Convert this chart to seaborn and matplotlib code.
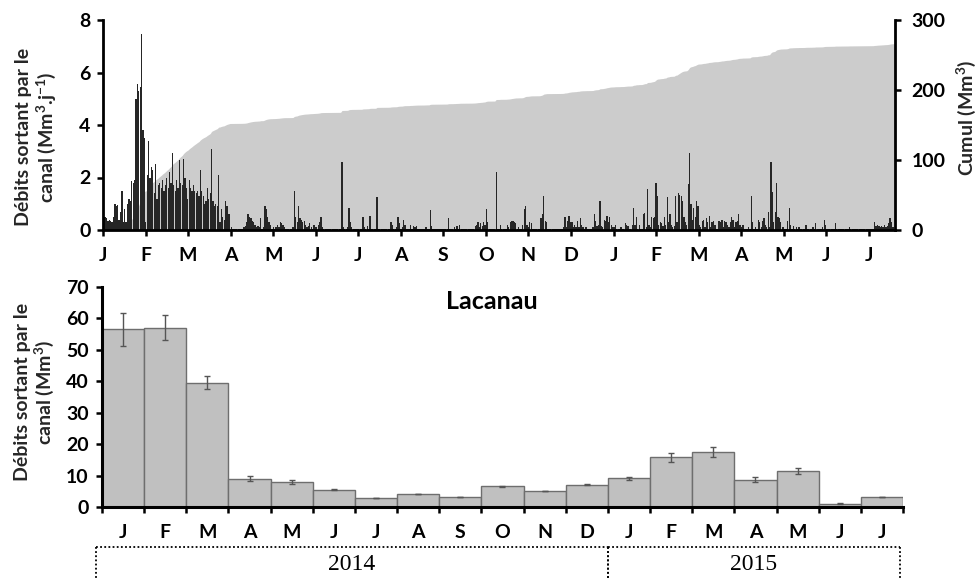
import numpy as np
import pandas as pd
import matplotlib
matplotlib.use("Agg")
import matplotlib.pyplot as plt
import matplotlib.transforms as mtransforms
from matplotlib.lines import Line2D
import seaborn as sns

# ---------------- data: daily outflow (Mm3/day) ----------------
q_2014_01 = [0.7, 0.5, 0.45, 0.35, 0.4, 0.35, 0.3, 0.5, 1.0, 0.9,
             0.95, 0.4, 0.7, 1.5, 0.3, 0.8, 0.3, 1.0, 1.2, 1.1,
             1.85, 1.8, 1.9, 5.0, 5.55, 5.3, 5.45, 7.45, 3.8, 3.5, 0.3]
q_2014_02 = [2.1, 3.4, 2.0, 2.4, 2.3, 1.4, 2.5, 1.2, 1.7, 1.8,
             1.6, 1.9, 1.5, 1.7, 2.0, 1.6, 2.2, 1.8, 2.95, 1.7,
             1.5, 1.9, 1.6, 2.65, 1.8, 1.7, 2.7, 2.0]
q_2014_03 = [1.6, 1.2, 1.9, 1.6, 1.5, 1.7, 1.5, 1.4, 1.5, 1.3,
             2.3, 1.5, 1.3, 1.0, 1.1, 1.6, 1.2, 1.4, 3.1, 1.1,
             0.9, 1.0, 0.9, 2.1, 0.3, 0.8, 0.5, 0.4, 1.1, 0.9, 0.6]
q_2014_04 = [0.6, 0.1, 0.02, 0.02, 0.02, 0.02, 0.02, 0.02, 0.02, 0.05,
             0.1, 0.15, 0.3, 0.6, 0.5, 0.45, 0.35, 0.3, 0.2, 0.1,
             0.15, 0.1, 0.45, 0.05, 0.1, 0.9, 0.8, 0.5, 0.3, 0.2]
q_2014_05 = [0.05, 0.1, 0.05, 0.1, 0.2, 0.1, 0.3, 0.25, 0.2, 0.1,
             0.05, 0.02, 0.02, 0.02, 0.05, 0.1, 1.5, 0.5, 0.3, 0.9,
             0.45, 0.4, 0.3, 0.35, 0.2, 0.1, 0.15, 0.25, 0.1, 0.05, 0.2]
q_2014_06 = [0.1, 0.1, 0.2, 0.3, 0.5, 0.1, 0.05, 0.05, 0.02, 0.02,
             0.02, 0.02, 0.02, 0.02, 0.02, 0.02, 0.02, 0.02, 0.05, 2.6,
             0.1, 0.05, 0.05, 0.1, 0.85, 0.3, 0.1, 0.05, 0.02, 0.02]
q_2014_07 = [0.05, 0.02, 0.02, 0.02, 0.5, 0.1, 0.02, 0.15, 0.02, 0.55,
             0.05, 0.02, 0.02, 0.02, 1.25, 0.05, 0.02, 0.02, 0.02, 0.02,
             0.02, 0.02, 0.05, 0.05, 0.3, 0.2, 0.05, 0.05, 0.1, 0.5, 0.25]
q_2014_08 = [0.05, 0.1, 0.4, 0.2, 0.05, 0.02, 0.05, 0.2, 0.05, 0.15,
             0.1, 0.15, 0.05, 0.02, 0.02, 0.02, 0.02, 0.05, 0.1, 0.05,
             0.02, 0.75, 0.15, 0.05, 0.02, 0.02, 0.02, 0.02, 0.02, 0.02, 0.05]
q_2014_09 = [0.02, 0.02, 0.05, 0.45, 0.05, 0.02, 0.02, 0.1, 0.05, 0.15,
             0.05, 0.2, 0.05, 0.02, 0.02, 0.02, 0.02, 0.02, 0.02, 0.02,
             0.05, 0.05, 0.15, 0.2, 0.3, 0.1, 0.25, 0.15, 0.3, 0.2]
q_2014_10 = [0.8, 0.3, 0.05, 0.02, 0.02, 0.02, 0.02, 2.2, 0.05, 0.02,
             0.2, 0.02, 0.02, 0.02, 0.02, 0.2, 0.1, 0.3, 0.35, 0.35,
             0.3, 0.25, 0.05, 0.1, 0.05, 0.02, 0.2, 0.8, 0.9, 0.2, 0.1]
q_2014_11 = [0.3, 0.25, 0.05, 0.02, 0.05, 0.02, 0.02, 0.05, 0.45, 0.6,
             1.3, 0.35, 0.3, 0.05, 0.02, 0.02, 0.02, 0.02, 0.02, 0.02,
             0.02, 0.02, 0.05, 0.05, 0.1, 0.5, 0.1, 0.35, 0.55, 0.3]
q_2014_12 = [0.3, 0.1, 0.2, 0.1, 0.35, 0.1, 0.45, 0.2, 0.1, 0.05,
             0.1, 0.05, 0.02, 0.02, 0.05, 0.1, 0.6, 0.35, 0.15, 0.2,
             1.1, 0.15, 0.1, 0.4, 0.35, 0.55, 0.3, 0.5, 0.2, 0.1, 0.1]
q_2015_01 = [0.2, 0.05, 0.05, 0.05, 0.1, 0.05, 0.05, 0.25, 0.2, 0.15,
             0.05, 0.05, 0.2, 0.85, 0.2, 0.5, 0.05, 0.2, 0.05, 0.05,
             0.6, 0.65, 0.1, 1.55, 0.2, 0.1, 0.5, 0.45, 0.5, 1.8, 1.3]
q_2015_02 = [0.2, 0.3, 0.25, 0.15, 0.5, 0.2, 1.25, 0.3, 0.6, 0.2,
             0.1, 0.15, 1.3, 0.3, 1.4, 1.35, 1.3, 1.1, 0.5, 0.3,
             0.2, 1.75, 2.95, 1.0, 0.4, 0.85, 0.5, 1.1]
q_2015_03 = [0.9, 0.2, 0.1, 0.35, 0.4, 0.1, 0.45, 0.3, 0.55, 0.1,
             0.3, 0.35, 0.2, 0.05, 0.05, 0.35, 0.3, 0.4, 0.1, 0.35,
             0.3, 0.2, 0.1, 0.3, 0.5, 0.4, 0.1, 0.3, 0.35, 0.6, 0.2]
q_2015_04 = [0.1, 0.2, 0.05, 0.05, 0.05, 0.1, 0.05, 1.3, 0.3, 0.05,
             0.1, 0.05, 0.4, 0.3, 0.1, 0.35, 0.45, 0.2, 0.1, 0.7,
             0.1, 2.6, 1.45, 0.3, 0.7, 1.8, 0.5, 0.45, 0.3, 0.1]
q_2015_05 = [0.1, 0.05, 0.05, 0.35, 0.85, 0.2, 0.05, 0.15, 0.05, 0.1,
             0.02, 0.1, 0.02, 0.02, 0.02, 0.05, 0.2, 0.05, 0.02, 0.02,
             0.02, 0.1, 0.02, 0.25, 0.02, 0.02, 0.02, 0.05, 0.1, 0.4, 0.2]
q_2015_06 = [0.05, 0.02, 0.02, 0.02, 0.05, 0.02, 0.25, 0.02, 0.02, 0.02,
             0.02, 0.02, 0.02, 0.02, 0.02, 0.02, 0.1, 0.02, 0.02, 0.02,
             0.02, 0.02, 0.02, 0.02, 0.02, 0.02, 0.02, 0.02, 0.02, 0.02]
q_2015_07 = [0.02, 0.02, 0.02, 0.05, 0.3, 0.15, 0.2, 0.15, 0.1, 0.15,
             0.1, 0.2, 0.1, 0.15, 0.25, 0.45, 0.3, 0.1, 0.05]

# ---------------- data: monthly volumes (Mm3) with error bars ----------------
month_letters = ["J", "F", "M", "A", "M", "J", "J", "A", "S", "O", "N", "D",
                 "J", "F", "M", "A", "M", "J", "J"]
monthly_volume = [56.5, 57.1, 39.6, 9.0, 7.9, 5.5, 2.75, 4.0, 3.1, 6.6, 5.1, 7.1,
                  9.1, 15.8, 17.4, 8.7, 11.45, 1.1, 3.2]
monthly_err = [5.3, 4.0, 2.0, 0.8, 0.7, 0.15, 0.0, 0.0, 0.0, 0.1, 0.12, 0.12,
               0.6, 1.4, 1.6, 0.7, 0.9, 0.1, 0.0]
year_labels = ["2014", "2015"]
site_name = "Lacanau"

# ---------------- style ----------------
sns.set_theme(style="white")
plt.rcParams["font.family"] = ["Lato", "DejaVu Sans"]
plt.rcParams["font.weight"] = "bold"
plt.rcParams["mathtext.fontset"] = "custom"
plt.rcParams["mathtext.rm"] = "Lato:bold"
plt.rcParams["mathtext.it"] = "Lato:bold"
plt.rcParams["mathtext.bf"] = "Lato:bold"
plt.rcParams["mathtext.default"] = "rm"

W, H = 979, 579
fig = plt.figure(figsize=(W / 100, H / 100), dpi=100)

# ---------------- top panel ----------------
daily = np.concatenate([q_2014_01, q_2014_02, q_2014_03, q_2014_04, q_2014_05, q_2014_06,
                        q_2014_07, q_2014_08, q_2014_09, q_2014_10, q_2014_11, q_2014_12,
                        q_2015_01, q_2015_02, q_2015_03, q_2015_04, q_2015_05, q_2015_06,
                        q_2015_07])
n = len(daily)
df_daily = pd.DataFrame({"day": np.arange(n), "q": daily})
df_daily["cumul"] = df_daily["q"].cumsum()

ax_top = fig.add_axes([103 / W, 1 - 230 / H, (895 - 103) / W, 210 / H])
ax_cum = ax_top.twinx()

xa = np.r_[-0.5, df_daily["day"].values, n - 0.5]
ya = np.r_[df_daily["cumul"].values[0], df_daily["cumul"].values, df_daily["cumul"].values[-1]]
ax_cum.fill_between(xa, ya, 0, color="#cccccc", lw=0)
ax_cum.set_ylim(0, 300)
ax_cum.set_yticks([0, 100, 200, 300])

sns.barplot(data=df_daily, x="day", y="q", native_scale=True, width=0.9,
            color="#262626", saturation=1, linewidth=0, errorbar=None, ax=ax_top)

ax_top.set_zorder(ax_cum.get_zorder() + 1)
ax_top.patch.set_visible(False)
ax_top.set_xlim(-0.5, n - 0.5)
ax_cum.set_xlim(-0.5, n - 0.5)
ax_top.set_ylim(0, 8)
ax_top.set_yticks([0, 2, 4, 6, 8])
tick_step = 30.35
ax_top.set_xticks(-0.5 + np.arange(len(month_letters)) * tick_step)
ax_top.set_xticklabels(month_letters)
ax_top.set_xlabel("")
ax_top.set_ylabel("")

for s in ["top", "right"]:
    ax_top.spines[s].set_visible(False)
for s in ["left", "bottom"]:
    ax_top.spines[s].set_linewidth(2.0)
    ax_top.spines[s].set_color("black")
for s in ["top", "left", "bottom"]:
    ax_cum.spines[s].set_visible(False)
ax_cum.spines["right"].set_linewidth(2.0)
ax_cum.spines["right"].set_color("black")

ax_top.tick_params(axis="x", bottom=True, direction="out", length=4, width=1.8,
                   pad=8, labelsize=14, colors="black")
ax_top.tick_params(axis="y", left=True, direction="out", length=4, width=1.8,
                   pad=5, labelsize=14, colors="black")
ax_cum.tick_params(axis="y", right=True, direction="out", length=4, width=1.8,
                   pad=8, labelsize=14, colors="black")
ax_cum.tick_params(axis="x", bottom=False, labelbottom=False)

# ---------------- bottom panel ----------------
df_month = pd.DataFrame({"pos": np.arange(len(monthly_volume)),
                         "vol": monthly_volume, "err": monthly_err})
ax_bot = fig.add_axes([102 / W, 1 - 507 / H, (903 - 102) / W, 220 / H])
sns.barplot(data=df_month, x="pos", y="vol", native_scale=True, width=1.0,
            color="#c0c0c0", saturation=1, edgecolor="#6e6e6e", linewidth=1.0,
            errorbar=None, ax=ax_bot)
ax_bot.errorbar(df_month["pos"], df_month["vol"], yerr=df_month["err"], fmt="none",
                ecolor="#555555", elinewidth=1.0, capsize=2.5, capthick=1.0)
nm = len(monthly_volume)
ax_bot.set_xlim(-0.5, nm - 0.5)
ax_bot.set_ylim(0, 70)
ax_bot.set_yticks(np.arange(0, 71, 10))
ax_bot.set_xticks(np.arange(nm + 1) - 0.5)
ax_bot.set_xticklabels([""] * (nm + 1))
ax_bot.set_xticks(np.arange(nm), minor=True)
ax_bot.set_xticklabels(month_letters, minor=True)
ax_bot.set_xlabel("")
ax_bot.set_ylabel("")
for s in ["top", "right"]:
    ax_bot.spines[s].set_visible(False)
for s in ["left", "bottom"]:
    ax_bot.spines[s].set_linewidth(2.2)
    ax_bot.spines[s].set_color("black")
ax_bot.tick_params(axis="x", which="major", bottom=True, direction="out", length=4.5,
                   width=1.8, colors="black")
ax_bot.tick_params(axis="x", which="minor", bottom=True, length=0, pad=12,
                   labelsize=14, colors="black")
ax_bot.tick_params(axis="y", left=True, direction="out", length=4.5, width=1.8,
                   pad=5, labelsize=14, colors="black")
ax_bot.text(0.487, 0.932, site_name, transform=ax_bot.transAxes, ha="center",
            va="center", fontsize=18, fontweight="bold", color="black")

# year brackets (dotted)
trans = mtransforms.blended_transform_factory(ax_bot.transData, fig.transFigure)
y_top = 1 - 547 / H
spans = [(-0.64, 11.5), (11.5, 18.43)]
for (x0, x1), lab in zip(spans, year_labels):
    for xs, ys in [([x0, x1], [y_top, y_top]), ([x0, x0], [y_top, 0]), ([x1, x1], [y_top, 0])]:
        fig.add_artist(Line2D(xs, ys, transform=trans, color="black", lw=1.3,
                              linestyle=(0, (1, 1.3))))
    ax_bot.text((x0 + x1) / 2, 1 - 564 / H, lab, transform=trans, ha="center",
                va="center", fontsize=17, fontweight="normal",
                family=["Liberation Serif", "DejaVu Serif"], color="black")

# axis titles
fig.text(36.5 / W, 1 - 137 / H, "Débits sortant par le\ncanal (Mm$^{3}$.j$^{-1}$)",
         rotation=90, ha="center", va="center", fontsize=14, fontweight="bold",
         multialignment="center", linespacing=1.1)
fig.text(35 / W, 1 - 392 / H, "Débits sortant par le\ncanal (Mm$^{3}$)",
         rotation=90, ha="center", va="center", fontsize=14, fontweight="bold",
         multialignment="center", linespacing=1.1)
fig.text(966 / W, 1 - 118 / H, "Cumul (Mm$^{3}$)", rotation=90, ha="center",
         va="center", fontsize=14, fontweight="bold")

fig.savefig("out.png", dpi=100, facecolor="white")
